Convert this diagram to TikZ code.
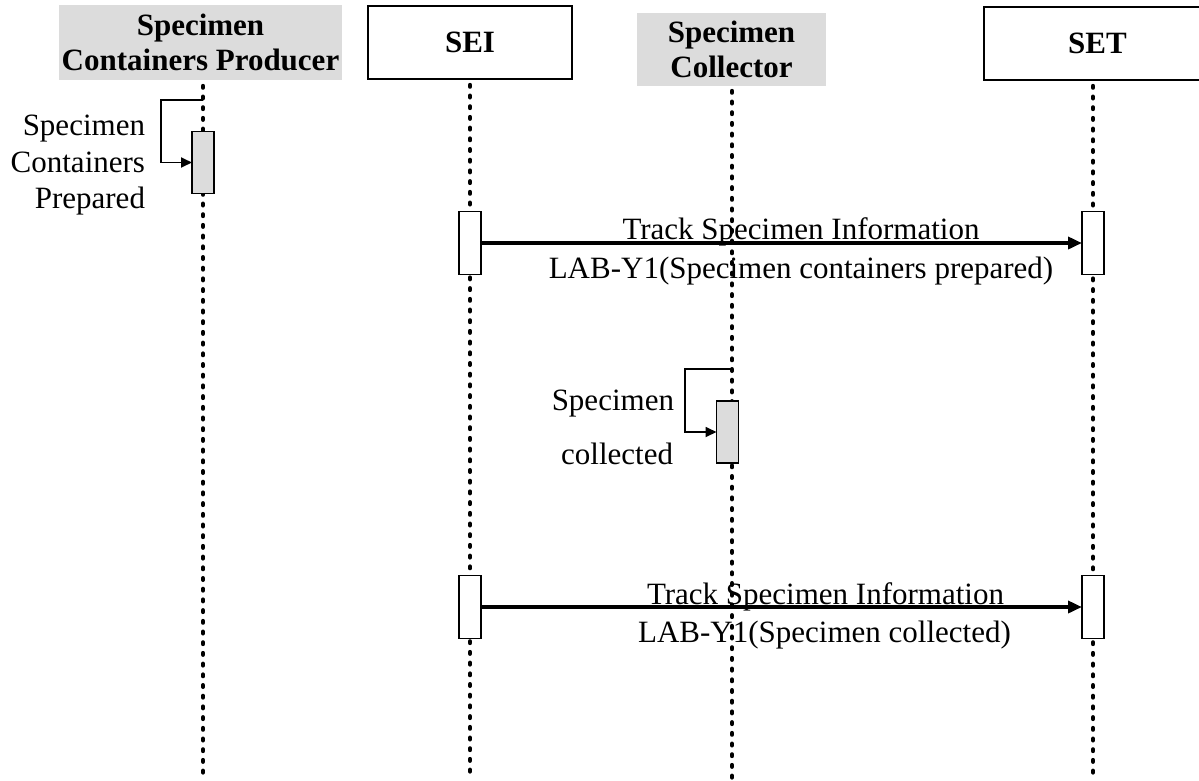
\documentclass[tikz,border=0pt]{standalone}
\usepackage{fontspec}
\setmainfont{Liberation Serif}
\usetikzlibrary{arrows.meta}
\definecolor{boxgrey}{RGB}{220,220,220}
\begin{document}
\begin{tikzpicture}[x=1pt,y=-1pt,
  every node/.style={inner sep=0pt,outer sep=0pt},
  txt/.style={font=\fontsize{31}{34}\selectfont},
  hdr/.style={font=\fontsize{31}{35}\selectfont\bfseries,align=center},
  greyhdr/.style={hdr,fill=boxgrey},
  whitehdr/.style={hdr,draw=black,line width=1.4pt,fill=white},
  lifeline/.style={line width=4.4pt,dash pattern=on 1.6pt off 9.1pt,line cap=round},
  actwhite/.style={draw=black,line width=1.3pt,fill=white,minimum width=22pt,minimum height=63pt},
  actgrey/.style={draw=black,line width=1.3pt,fill=boxgrey,minimum width=22pt,minimum height=62pt},
  msg/.style={line width=3.6pt,-{Triangle[length=14pt,width=12pt]}},
  selfmsg/.style={line width=1.8pt,-{Triangle[length=11pt,width=10pt]}}]
\clip (0,0) rectangle (1199,780);

% lifeline heads
\node[greyhdr,minimum width=283pt,minimum height=75pt] (prod) at (200.5,42.5) {Specimen\\Containers Producer};
\node[whitehdr,minimum width=204pt,minimum height=73pt] (sei) at (470,42.5) {SEI};
\node[greyhdr,minimum width=189pt,minimum height=73pt] (coll) at (731.5,49.5) {Specimen\\Collector};
\node[whitehdr,minimum width=224pt,minimum height=73pt] (set) at (1096,43.5) {\hspace*{3pt}SET};

% message labels
\node[txt,anchor=base] (m1a) at (801,239) {Track Specimen Information};
\node[txt,anchor=base] (m1b) at (801,278) {LAB-Y1(Specimen containers prepared)};
\node[txt,anchor=base] (m2a) at (825.5,604) {Track Specimen Information};
\node[txt,anchor=base] (m2b) at (824.5,642) {LAB-Y1(Specimen collected)};

% self-message labels
\node[txt,anchor=base east] (sA1) at (145,135) {Specimen};
\node[txt,anchor=base east] (sA2) at (145,172) {Containers};
\node[txt,anchor=base east] (sA3) at (145,208) {Prepared};
\node[txt,anchor=base east] (sC1) at (674,410) {Specimen};
\node[txt,anchor=base east] (sC2) at (673,464) {collected};

% lifelines
\coordinate (prodTop) at (203,86);   \coordinate (prodBot) at (203,776);
\coordinate (seiTop)  at (470,85);   \coordinate (seiBot)  at (470,776);
\coordinate (collTop) at (732,91);   \coordinate (collBot) at (732,782);
\coordinate (setTop)  at (1093,86);  \coordinate (setBot)  at (1093,776);
\draw[lifeline] (prodTop) -- (prodBot);
\draw[lifeline] (seiTop) -- (seiBot);
\draw[lifeline] (collTop) -- (collBot);
\draw[lifeline] (setTop) -- (setBot);

% activation bars
\node[actgrey] (actA) at (203,162.5) {};
\node[actwhite] (seiAct1) at (470,243) {};
\node[actwhite] (setAct1) at (1093,243) {};
\node[actgrey] (actC) at (727.5,432) {};
\node[actwhite] (seiAct2) at (470,607) {};
\node[actwhite] (setAct2) at (1093,607) {};

% self messages
\coordinate (loopA) at (203,100);
\coordinate (loopC) at (732,369);
\draw[selfmsg] (loopA) -- ++(-42,0) |- (actA.west);
\draw[selfmsg] (loopC) -- ++(-47,0) |- (actC.west);

% messages
\draw[msg] (seiAct1.east) -- (setAct1.west);
\draw[msg] (seiAct2.east) -- (setAct2.west);
\end{tikzpicture}
\end{document}
